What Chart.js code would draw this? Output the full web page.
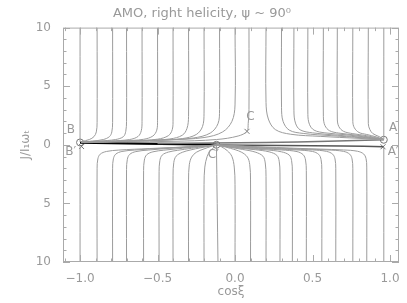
<!DOCTYPE html>
<html>
<head>
<meta charset="utf-8">
<script src="https://cdn.jsdelivr.net/npm/chart.js@4/dist/chart.umd.min.js"></script>
<style>
  html, body { margin: 0; padding: 0; background: #fff; }
  canvas { display: block; }
</style>
</head>
<body>
<canvas id="chart" width="407" height="303"></canvas>
<script>
/* ---- data (x = cos xi, y = J / I1 wT) ---- */
const TITLE   = 'AMO, right helicity, \u03C8 ~ 90\u2070';
const X_TITLE = 'cos\u03BE';
const Y_TITLE = 'J/I\u2081\u03C9\u209C';

const X_TICKS  = [-1.0, -0.5, 0.0, 0.5, 1.0];
const X_LABELS = ['\u22121.0', '\u22120.5', '0.0', '0.5', '1.0'];
const Y_TICKS  = [-10, -5, 0, 5, 10];
const Y_LABELS = ['10', '5', '0', '5', '10'];

// upper trajectories bending left into B
const TOP_LEFT = [
  [-1.00,10, -1.00,0.25],
  [-0.89,10, -0.89,1.9, -0.895,1.1, -0.91,0.7, -0.94,0.45, -0.99,0.28],
  [-0.79,10, -0.79,1.9, -0.795,1.1, -0.81,0.7, -0.85,0.45, -0.92,0.32, -0.99,0.26],
  [-0.70,10, -0.70,2.0, -0.705,1.15, -0.72,0.7, -0.77,0.45, -0.88,0.32, -0.99,0.25],
  [-0.60,10, -0.60,2.0, -0.605,1.2, -0.625,0.72, -0.68,0.45, -0.80,0.33, -0.99,0.24],
  [-0.50,10, -0.50,2.1, -0.505,1.25, -0.53,0.75, -0.59,0.47, -0.72,0.34, -0.99,0.23],
  [-0.40,10, -0.40,2.2, -0.405,1.3, -0.43,0.78, -0.50,0.48, -0.65,0.35, -0.99,0.22],
  [-0.30,10, -0.30,2.4, -0.31,1.4, -0.34,0.82, -0.42,0.5, -0.58,0.37, -0.99,0.21],
  [-0.20,10, -0.20,2.7, -0.21,1.55, -0.25,0.88, -0.34,0.53, -0.52,0.38, -0.99,0.2],
  [-0.10,10, -0.10,3.0, -0.11,1.8, -0.16,1.0, -0.27,0.58, -0.48,0.4, -0.99,0.2],
  [0.00,10, 0.00,3.4, -0.02,2.0, -0.08,1.1, -0.20,0.62, -0.42,0.43, -0.99,0.2],
  [0.09,10, 0.09,3.0, 0.085,1.8, 0.077,1.15, 0.02,0.75, -0.12,0.45, -0.40,0.3, -0.99,0.19]
];

// upper trajectories bending right into A
const TOP_RIGHT = [
  [0.20,10, 0.20,3.6, 0.215,2.2, 0.26,1.3, 0.36,0.9, 0.55,0.72, 0.80,0.55, 0.96,0.44],
  [0.30,10, 0.30,3.2, 0.31,2.0, 0.35,1.25, 0.44,0.97, 0.62,0.78, 0.82,0.6, 0.96,0.44],
  [0.38,10, 0.38,2.9, 0.39,1.85, 0.42,1.28, 0.50,1.02, 0.66,0.82, 0.84,0.62, 0.96,0.44],
  [0.47,10, 0.47,2.6, 0.48,1.75, 0.51,1.25, 0.58,1.02, 0.72,0.85, 0.86,0.63, 0.96,0.44],
  [0.57,10, 0.57,2.4, 0.58,1.65, 0.61,1.2, 0.67,1.0, 0.78,0.83, 0.88,0.63, 0.96,0.44],
  [0.66,10, 0.66,2.2, 0.67,1.55, 0.70,1.15, 0.76,0.95, 0.85,0.78, 0.96,0.45],
  [0.76,10, 0.76,2.0, 0.77,1.45, 0.80,1.05, 0.85,0.88, 0.91,0.68, 0.96,0.45],
  [0.86,10, 0.86,1.8, 0.87,1.3, 0.89,0.95, 0.93,0.7, 0.96,0.46],
  [0.96,10, 0.96,0.46]
];

// lower trajectories, all running into C'
const BOTTOM = [
  [-1.00,-10, -1.00,-0.15],
  [-0.89,-10, -0.89,-2.0, -0.885,-1.2, -0.87,-0.8, -0.83,-0.57, -0.75,-0.45, -0.55,-0.32, -0.30,-0.17, -0.12,-0.02],
  [-0.79,-10, -0.79,-2.0, -0.785,-1.2, -0.77,-0.8, -0.73,-0.57, -0.65,-0.45, -0.48,-0.3, -0.28,-0.16, -0.12,-0.02],
  [-0.70,-10, -0.70,-2.1, -0.695,-1.25, -0.68,-0.82, -0.64,-0.58, -0.56,-0.45, -0.42,-0.3, -0.25,-0.15, -0.12,-0.02],
  [-0.59,-10, -0.59,-2.2, -0.585,-1.3, -0.57,-0.85, -0.53,-0.6, -0.46,-0.46, -0.34,-0.3, -0.22,-0.14, -0.12,-0.02],
  [-0.49,-10, -0.49,-2.3, -0.485,-1.35, -0.47,-0.88, -0.43,-0.62, -0.37,-0.47, -0.28,-0.3, -0.19,-0.13, -0.12,-0.02],
  [-0.40,-10, -0.40,-2.6, -0.395,-1.5, -0.38,-0.97, -0.34,-0.64, -0.29,-0.45, -0.22,-0.25, -0.15,-0.08, -0.12,-0.01],
  [-0.30,-10, -0.30,-3.0, -0.295,-1.7, -0.28,-1.05, -0.25,-0.64, -0.20,-0.35, -0.15,-0.12, -0.12,-0.01],
  [-0.20,-10, -0.20,-3.4, -0.195,-1.9, -0.18,-1.0, -0.16,-0.5, -0.13,-0.15, -0.12,-0.01],
  [-0.11,-10, -0.12,0.0],
  [0.00,-10, 0.00,-3.4, -0.005,-1.9, -0.02,-1.0, -0.05,-0.5, -0.09,-0.15, -0.115,-0.01],
  [0.10,-10, 0.10,-3.0, 0.095,-1.7, 0.08,-1.05, 0.04,-0.62, -0.03,-0.3, -0.09,-0.1, -0.115,-0.01],
  [0.20,-10, 0.20,-2.7, 0.195,-1.55, 0.18,-0.97, 0.13,-0.62, 0.05,-0.4, -0.04,-0.2, -0.115,-0.02],
  [0.29,-10, 0.29,-2.4, 0.285,-1.4, 0.27,-0.9, 0.22,-0.6, 0.13,-0.42, 0.00,-0.25, -0.115,-0.02],
  [0.37,-10, 0.37,-2.3, 0.365,-1.35, 0.35,-0.88, 0.30,-0.6, 0.20,-0.43, 0.04,-0.27, -0.115,-0.02],
  [0.46,-10, 0.46,-2.2, 0.455,-1.3, 0.44,-0.85, 0.40,-0.58, 0.30,-0.44, 0.10,-0.28, -0.115,-0.02],
  [0.56,-10, 0.56,-2.1, 0.555,-1.25, 0.54,-0.82, 0.50,-0.57, 0.40,-0.44, 0.15,-0.28, -0.115,-0.02],
  [0.65,-10, 0.65,-2.0, 0.645,-1.2, 0.63,-0.8, 0.59,-0.56, 0.50,-0.44, 0.20,-0.28, -0.115,-0.02],
  [0.76,-10, 0.76,-2.0, 0.755,-1.2, 0.74,-0.8, 0.70,-0.56, 0.60,-0.44, 0.30,-0.29, -0.115,-0.02],
  [0.85,-10, 0.85,-1.9, 0.845,-1.15, 0.83,-0.78, 0.79,-0.55, 0.70,-0.44, 0.40,-0.3, -0.115,-0.02],
  [0.96,-10, 0.96,-0.17]
];

// separatrix B -> C' (thick) and C' -> A', plus the band feeding A
const THICK_LINE = [-1.00,0.18, -0.60,0.1, -0.12,0.01];
const DARK_LINE  = [-0.12,-0.01, 0.30,-0.07, 0.70,-0.11, 0.96,-0.16];
const BAND_LINE  = [-0.50,0.12, 0.20,0.2, 0.60,0.3, 0.96,0.43];

// fixed points
const CIRCLES = [-1.00,0.20, 0.96,0.43, -0.12,0.0];     // B, A, C'
const CROSSES = [-0.99,-0.15, 0.955,-0.17, 0.077,1.15]; // B', A', C
const POINT_NAMES = ['B', 'B\u2032', 'A', 'A\u2032', 'C', 'C\u2032'];
const NAME_POS    = [-1.06,1.3, -1.06,-0.6, 1.02,1.45, 1.02,-0.6, 0.10,2.4, -0.14,-0.85];

/* ---- helpers ---- */
const pts = flat => { const o = []; for (let i = 0; i < flat.length; i += 2) o.push({x: flat[i], y: flat[i + 1]}); return o; };
const GREY = '#999';
const curve = (flat, colour = '#9c9c9c', w = 1) => ({
  data: pts(flat), showLine: true, borderColor: colour, borderWidth: w,
  pointRadius: 0, tension: 0.35, fill: false
});

const datasets = [
  ...TOP_LEFT.map(c => curve(c)),
  ...TOP_RIGHT.map(c => curve(c)),
  ...BOTTOM.map(c => curve(c)),
  curve(BAND_LINE, '#777', 1.5),
  curve(DARK_LINE, '#555', 1.5),
  curve(THICK_LINE, '#000', 2.2),
  {data: pts(CIRCLES), pointStyle: 'circle', pointRadius: 3.5, borderColor: '#777', borderWidth: 1,
   backgroundColor: 'rgba(0,0,0,0)', showLine: false},
  {data: pts(CROSSES), pointStyle: 'crossRot', pointRadius: 3.5, borderColor: '#777', borderWidth: 1, showLine: false}
];

/* ---- box with inward ticks + point names ---- */
const frame = {
  id: 'frame',
  afterDraw(chart) {
    const {ctx, chartArea: a, scales: {x, y}} = chart;
    ctx.save();
    ctx.strokeStyle = '#aaa';
    ctx.lineWidth = 1;
    ctx.strokeRect(a.left + 0.5, a.top + 0.5, a.right - a.left - 1, a.bottom - a.top - 1);
    ctx.beginPath();
    for (let v = -1.1; v <= 1.06; v += 0.1) {
      const val = Math.round(v * 10) / 10;
      const px = Math.round(x.getPixelForValue(val)) + 0.5;
      const len = X_TICKS.includes(val) ? 7 : 3.5;
      ctx.moveTo(px, a.bottom); ctx.lineTo(px, a.bottom - len);
      ctx.moveTo(px, a.top);    ctx.lineTo(px, a.top + len);
    }
    for (let v = -10; v <= 10; v++) {
      const py = Math.round(y.getPixelForValue(v)) + 0.5;
      const len = Y_TICKS.includes(v) ? 7 : 3.5;
      ctx.moveTo(a.left, py);  ctx.lineTo(a.left + len, py);
      ctx.moveTo(a.right, py); ctx.lineTo(a.right - len, py);
    }
    ctx.stroke();

    ctx.fillStyle = GREY;
    ctx.font = '12px "DejaVu Sans"';
    ctx.textAlign = 'center';
    ctx.textBaseline = 'middle';
    POINT_NAMES.forEach((n, i) => {
      ctx.fillText(n, x.getPixelForValue(NAME_POS[2 * i]), y.getPixelForValue(NAME_POS[2 * i + 1]));
    });
    ctx.restore();
  }
};

new Chart(document.getElementById('chart'), {
  type: 'scatter',
  data: {datasets},
  plugins: [frame],
  options: {
    responsive: false,
    animation: false,
    layout: {padding: {top: 0, right: 8, left: 5, bottom: 0}},
    plugins: {
      legend: {display: false},
      tooltip: {enabled: false},
      title: {display: true, text: TITLE, color: GREY,
              font: {family: 'DejaVu Sans', size: 13, weight: 'normal'},
              padding: {top: 6, bottom: 6}}
    },
    scales: {
      x: {
        type: 'linear', min: -1.11, max: 1.058,
        grid: {display: false}, border: {display: false},
        afterBuildTicks: s => { s.ticks = X_TICKS.map(v => ({value: v})); },
        afterFit: s => { s.height = 41; },
        ticks: {color: GREY, padding: 2, font: {family: 'DejaVu Sans', size: 12},
                callback: (v) => X_LABELS[X_TICKS.indexOf(v)]},
        title: {display: true, text: X_TITLE, color: GREY, padding: {top: 0, bottom: 4},
                font: {family: 'DejaVu Sans', size: 12}}
      },
      y: {
        type: 'linear', min: -10, max: 10,
        grid: {display: false}, border: {display: false},
        afterBuildTicks: s => { s.ticks = Y_TICKS.map(v => ({value: v})); },
        afterFit: s => { s.width = 58; },
        ticks: {color: GREY, padding: 4, font: {family: 'DejaVu Sans', size: 12},
                callback: (v) => Y_LABELS[Y_TICKS.indexOf(v)]},
        title: {display: true, text: Y_TITLE, color: GREY, padding: {top: 14, bottom: 0},
                font: {family: 'DejaVu Sans', size: 12}}
      }
    }
  }
});
</script>
</body>
</html>
